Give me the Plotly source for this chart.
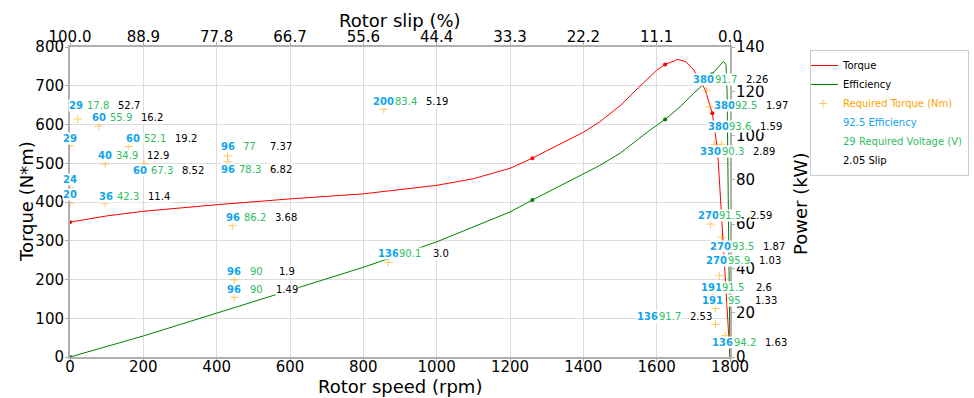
import plotly.graph_objects as go

# ---- curve data ----
curve_rpm = [0, 100, 200, 400, 600, 800, 1000, 1100, 1200, 1261, 1300, 1400, 1445, 1500, 1550, 1600,
             1623, 1658, 1680, 1700, 1720, 1732, 1752, 1764, 1768, 1774, 1780, 1786, 1791, 1796, 1800]
torque_nm = [348, 364, 376, 393, 408, 421, 443, 460, 487, 513, 532, 580, 607, 648, 695, 740,
             755, 768, 762, 742, 712, 690, 629, 547, 505, 410, 310, 230, 160, 70, 0]

eff_rpm = [0, 200, 400, 600, 800, 1000, 1200, 1261, 1400, 1445, 1500, 1582, 1623, 1664, 1700, 1727,
           1751, 1770, 1782, 1789, 1792, 1795, 1798, 1800]
eff_kw = [0, 9.5, 19.8, 30, 40.5, 52, 65.5, 70.9, 82.5, 86.5, 92, 102.5, 107.3, 113, 119, 123,
          127.7, 131, 133.5, 132, 120, 75, 30, 0]

torque_dot_rpm = [0, 1261, 1623, 1752]
torque_dot_nm = [348, 513, 755, 629]
eff_dot_rpm = [0, 1261, 1623, 1751]
eff_dot_kw = [0, 70.9, 107.3, 127.7]

# ---- required operating points ----
req_rpm = [21, 79, 0, 159, 96, 202, 0, 0, 96, 430, 430, 444, 856, 868, 448, 448,
           1736, 1745, 1757, 1777, 1747, 1777, 1771, 1754, 1760, 1760, 1787]
req_torque = [614, 596, 545, 543, 498, 498, 436, 397, 397, 519, 504, 339, 639, 244, 199, 154,
              687, 646, 549, 549, 343, 309, 210, 160, 125, 84, 55]
req_voltage = ["29", "60", "29", "60", "40", "60", "24", "20", "36", "96", "96", "96", "200", "136", "96", "96",
               "380", "380", "380", "330", "270", "270", "270", "191", "191", "136", "136"]
req_eff = ["17.8", "55.9", "", "52.1", "34.9", "67.3", "", "", "42.3", "77", "78.3", "86.2", "83.4", "90.1", "90", "90",
           "91.7", "92.5", "93.6", "90.3", "91.5", "93.5", "95.9", "91.5", "95", "91.7", "94.2"]
req_slip = ["52.7", "16.2", "", "19.2", "12.9", "8.52", "", "", "11.4", "7.37", "6.82", "3.68", "5.19", "3.0", "1.9", "1.49",
            "2.26", "1.97", "1.59", "2.89", "2.59", "1.87", "1.03", "2.6", "1.33", "2.53", "1.63"]
# label anchor (data coords)
label_rpm = [16, 78, 0, 171, 95, 191, 0, 0, 97, 430, 430, 444, 855, 868, 448, 448,
             1729, 1784, 1768, 1747, 1740, 1775, 1764, 1749, 1753, 1576, 1780]
label_torque = [650, 617, 565, 565, 519, 481, 457, 420, 415, 542, 483, 361, 660, 268, 220, 175,
                715, 648, 596, 530, 366, 285, 248, 180, 147, 104, 38]

speed_ticks = [0, 200, 400, 600, 800, 1000, 1200, 1400, 1600, 1800]
slip_tick_labels = ["100.0", "88.9", "77.8", "66.7", "55.6", "44.4", "33.3", "22.2", "11.1", "0.0"]

BLUE = "#10a5ea"
GREEN_TXT = "#2ebd63"
ORANGE = "#ffa500"
FONT = "DejaVu Sans"

fig = go.Figure()
fig.add_trace(go.Scatter(x=curve_rpm, y=torque_nm, mode="lines", name="Torque",
                         line=dict(color="red", width=1)))
fig.add_trace(go.Scatter(x=eff_rpm, y=eff_kw, mode="lines", name="Efficiency", yaxis="y2",
                         line=dict(color="green", width=1)))
fig.add_trace(go.Scatter(x=req_rpm, y=req_torque, mode="markers",
                         name=f'<span style="color:{ORANGE}">Required Torque (Nm)</span>',
                         marker=dict(symbol="cross-thin", size=6, color=ORANGE, opacity=0.6,
                                     line=dict(color=ORANGE, width=1))))
for nm, col in [("92.5 Efficiency", BLUE), ("29 Required Voltage (V)", GREEN_TXT), ("2.05 Slip", "black")]:
    fig.add_trace(go.Scatter(x=[None], y=[None], mode="markers",
                             name=f'<span style="color:{col}">{nm}</span>',
                             marker=dict(size=1, color="rgba(0,0,0,0)")))
fig.add_trace(go.Scatter(x=torque_dot_rpm, y=torque_dot_nm, mode="markers", showlegend=False,
                         marker=dict(color="red", size=4)))
fig.add_trace(go.Scatter(x=eff_dot_rpm, y=eff_dot_kw, mode="markers", showlegend=False, yaxis="y2",
                         marker=dict(color="green", size=4)))
# invisible trace to activate the top axis
fig.add_trace(go.Scatter(x=[0, 1800], y=[None, None], xaxis="x2", showlegend=False, hoverinfo="skip"))

annotations = []
for i in range(len(req_rpm)):
    parts = [(f"<b>{req_voltage[i]}</b>", BLUE, 0), (req_eff[i], GREEN_TXT, 22), (req_slip[i], "black", 53)]
    for txt, col, dx in parts:
        if txt in ("", "<b></b>"):
            continue
        annotations.append(dict(x=label_rpm[i], y=label_torque[i], xref="x", yref="y", text=txt,
                                showarrow=False, xanchor="center", yanchor="middle", xshift=dx,
                                font=dict(family=FONT, size=10, color=col),
                                bgcolor="white", borderpad=0))

# axis titles
title_font = dict(family=FONT, size=18, color="black")
annotations += [
    dict(text="Rotor speed (rpm)", x=0.5, y=0, xref="paper", yref="paper", showarrow=False,
         xanchor="center", yanchor="middle", yshift=-29, font=title_font),
    dict(text="Rotor slip (%)", x=0.5, y=1, xref="paper", yref="paper", showarrow=False,
         xanchor="center", yanchor="middle", yshift=27, font=title_font),
    dict(text="Torque (N*m)", x=0, y=0.5, xref="paper", yref="paper", showarrow=False, textangle=-90,
         xanchor="center", yanchor="middle", xshift=-44, font=title_font),
    dict(text="Power (kW)", x=1, y=0.5, xref="paper", yref="paper", showarrow=False, textangle=-90,
         xanchor="center", yanchor="middle", xshift=70, yshift=-2, font=title_font),
]

axis_common = dict(showline=True, linecolor="#b0b0b0", linewidth=2, ticks="outside", ticklen=3,
                   tickcolor="#b0b0b0", automargin=False,
                   tickfont=dict(family=FONT, size=15, color="black"))

fig.update_layout(
    width=974, height=398,
    margin=dict(l=70, r=244, t=47, b=41),
    plot_bgcolor="white", paper_bgcolor="white",
    font=dict(family=FONT, color="black"),
    xaxis=dict(range=[0, 1800], tickvals=speed_ticks, showgrid=True, gridcolor="#dcdcdc", zeroline=False,
               ticklabelstandoff=-8, **axis_common),
    xaxis2=dict(range=[0, 1800], overlaying="x", side="top", tickvals=speed_ticks, ticktext=slip_tick_labels,
                showgrid=False, zeroline=False, ticklabelstandoff=-6, **axis_common),
    yaxis=dict(range=[0, 800], dtick=100, showgrid=True, gridcolor="#dcdcdc", zeroline=False,
               ticklabelstandoff=-2, **axis_common),
    yaxis2=dict(range=[0, 140], dtick=20, overlaying="y", side="right", showgrid=False, zeroline=False,
                ticklabelstandoff=-2, **axis_common),
    legend=dict(x=810 / 974, y=1 - 50 / 398, xref="container", yref="container",
                xanchor="left", yanchor="top", bgcolor="white", itemwidth=30, indentation=-8,
                bordercolor="#cccccc", borderwidth=1, font=dict(family=FONT, size=10)),
    annotations=annotations,
    showlegend=True,
)

fig.write_html("out.html")
